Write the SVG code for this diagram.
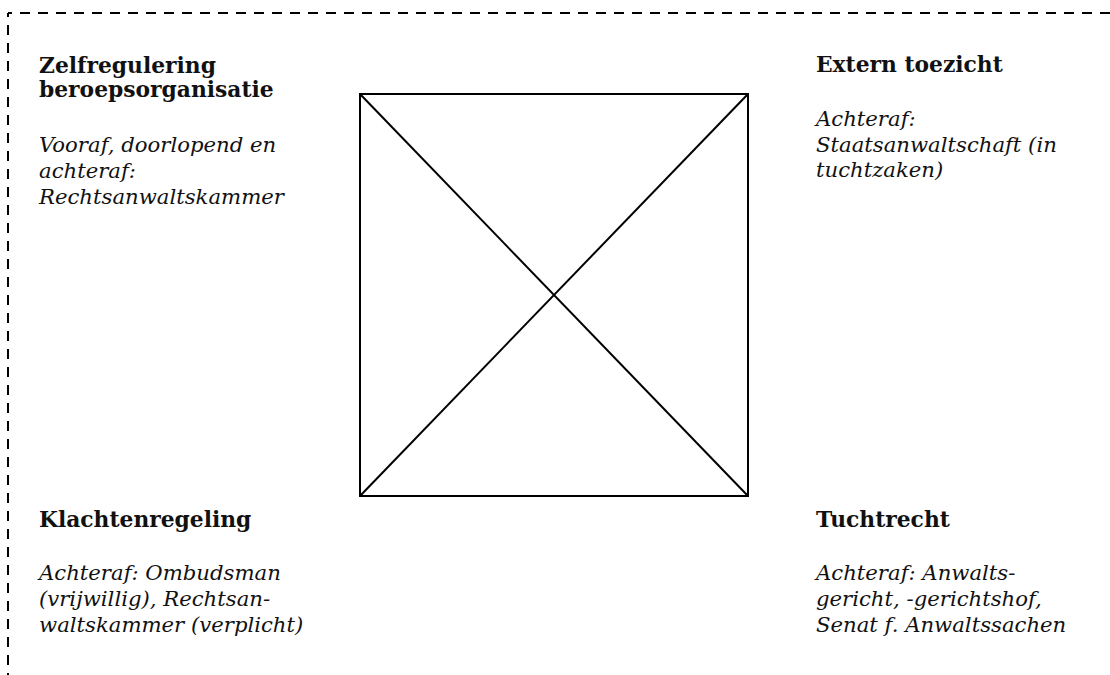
<svg xmlns="http://www.w3.org/2000/svg" width="1110" height="675" viewBox="0 0 1110 675">
<style>
.b{font-family:"DejaVu Serif","Liberation Serif",serif;font-weight:bold;font-size:21.8px;fill:#111}
.i{font-family:"DejaVu Serif","Liberation Serif",serif;font-style:italic;font-size:21.2px;fill:#111}
.ln{stroke:#000;stroke-width:2;fill:none}
.frame{stroke:#000;stroke-width:2;fill:none;stroke-dasharray:10 8;stroke-dashoffset:6}
</style>
<rect width="1110" height="675" fill="#fff"/>
<path class="frame" d="M8 13 V675"/>
<path class="frame" d="M8 13 H1110"/>
<g id="connectors">
<rect class="ln" x="360" y="94" width="388" height="402"/>
<line class="ln" x1="360" y1="94" x2="748" y2="496"/>
<line class="ln" x1="748" y1="94" x2="360" y2="496"/>
</g>
<g id="zelfregulering">
<text class="b" x="39" y="73">Zelfregulering</text>
<text class="b" x="39" y="97">beroepsorganisatie</text>
<text class="i" x="39" y="152">Vooraf, doorlopend en</text>
<text class="i" x="39" y="178">achteraf:</text>
<text class="i" x="39" y="204">Rechtsanwaltskammer</text>
</g>
<g id="extern">
<text class="b" x="816" y="72">Extern toezicht</text>
<text class="i" x="816" y="126">Achteraf:</text>
<text class="i" x="816" y="152">Staatsanwaltschaft (in</text>
<text class="i" x="816" y="177">tuchtzaken)</text>
</g>
<g id="klachten">
<text class="b" x="39" y="527">Klachtenregeling</text>
<text class="i" x="39" y="580">Achteraf: Ombudsman</text>
<text class="i" x="39" y="606">(vrijwillig), Rechtsan-</text>
<text class="i" x="39" y="632">waltskammer (verplicht)</text>
</g>
<g id="tucht">
<text class="b" x="816" y="527">Tuchtrecht</text>
<text class="i" x="816" y="580">Achteraf: Anwalts-</text>
<text class="i" x="816" y="606">gericht, -gerichtshof,</text>
<text class="i" x="816" y="632">Senat f. Anwaltssachen</text>
</g>
</svg>
